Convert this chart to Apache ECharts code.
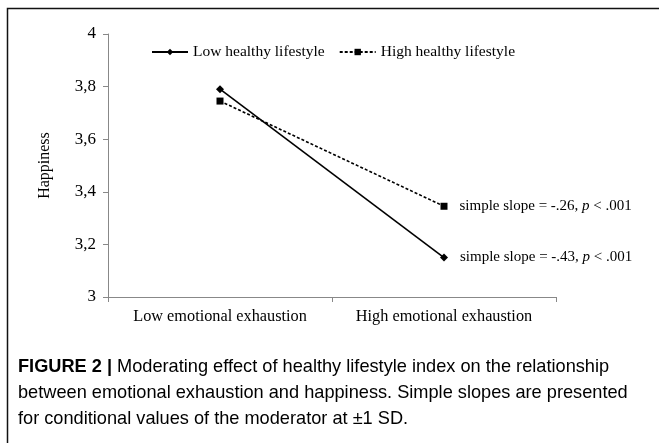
<!DOCTYPE html>
<html><head><meta charset="utf-8">
<script src="https://cdn.jsdelivr.net/npm/echarts@6/dist/echarts.min.js"></script>
<style>html,body{margin:0;padding:0;background:#fff}#c{width:659px;height:443px}</style>
</head><body><div id="c"></div>
<script>
const categories = ["Low emotional exhaustion", "High emotional exhaustion"];
const lowHealthy = [3.79, 3.15];
const highHealthy = [3.745, 3.345];
const slopeLow = "-.43";
const slopeHigh = "-.26";
const yMin = 3, yMax = 4, yInterval = 0.2;

const serif = "Liberation Serif";
const sans = "Liberation Sans";
function slopeLabel(s){
  return {show:true, position:'right', distance:12, color:'#000', fontFamily:serif, fontSize:15,
    formatter: p => p.dataIndex === 1 ? '{n|simple slope = ' + s + ', }{i|p}{n| < .001}' : '',
    rich:{n:{fontFamily:serif,fontSize:15,color:'#000'}, i:{fontFamily:serif,fontSize:15,fontStyle:'italic',color:'#000'}}};
}
const chart = echarts.init(document.getElementById('c'));
chart.setOption({
  animation:false,
  grid:{left:108, right:103, top:34, bottom:146, containLabel:false},
  legend:{top:39, left:146, itemGap:14, itemWidth:36, itemHeight:8,
    textStyle:{fontFamily:serif, fontSize:15.5, color:'#000'},
    data:['Low healthy lifestyle','High healthy lifestyle']},
  xAxis:{type:'category', data:categories, boundaryGap:true,
    axisLine:{lineStyle:{color:'#888', width:1}},
    axisTick:{show:true, inside:false, length:5, interval:0, lineStyle:{color:'#888'}},
    axisLabel:{fontFamily:serif, fontSize:16.3, color:'#000', margin:12, interval:0, hideOverlap:false}},
  yAxis:{type:'value', min:yMin, max:yMax, interval:yInterval,
    name:'Happiness', nameLocation:'middle', nameGap:55, nameRotate:90,
    nameTextStyle:{fontFamily:serif, fontSize:16, color:'#000'},
    axisLine:{show:true, lineStyle:{color:'#888', width:1}},
    axisTick:{show:true, length:5, lineStyle:{color:'#888'}},
    splitLine:{show:false},
    axisLabel:{fontFamily:serif, fontSize:17, color:'#000', margin:12,
      formatter: v => (Math.round(v*10)/10).toString().replace('.', ',')}},
  series:[
    {name:'Low healthy lifestyle', type:'line', data:lowHealthy, symbol:'diamond', symbolSize:8,
     lineStyle:{color:'#000', width:1.6}, itemStyle:{color:'#000'}, label:slopeLabel(slopeLow)},
    {name:'High healthy lifestyle', type:'line', data:highHealthy, symbol:'rect', symbolSize:7,
     lineStyle:{color:'#000', width:1.6, type:[3,2]}, itemStyle:{color:'#000'}, label:slopeLabel(slopeHigh)}
  ],
  graphic:[
    {type:'polyline', shape:{points:[[7.5,443],[7.5,8.5],[659,8.5]]}, style:{stroke:'#111', lineWidth:1.5, fill:null}},
    {type:'text', left:18, top:358, style:{
      text:'{b|FIGURE 2 | }{n|Moderating effect of healthy lifestyle index on the relationship}\n{n|between emotional exhaustion and happiness. Simple slopes are presented}\n{n|for conditional values of the moderator at \u00b11 SD.}',
      rich:{b:{fontFamily:sans, fontWeight:'bold', fontSize:18.2, color:'#222', lineHeight:26},
            n:{fontFamily:sans, fontSize:18.2, color:'#3a3a3a', lineHeight:26}}}}
  ]
});
</script></body></html>
